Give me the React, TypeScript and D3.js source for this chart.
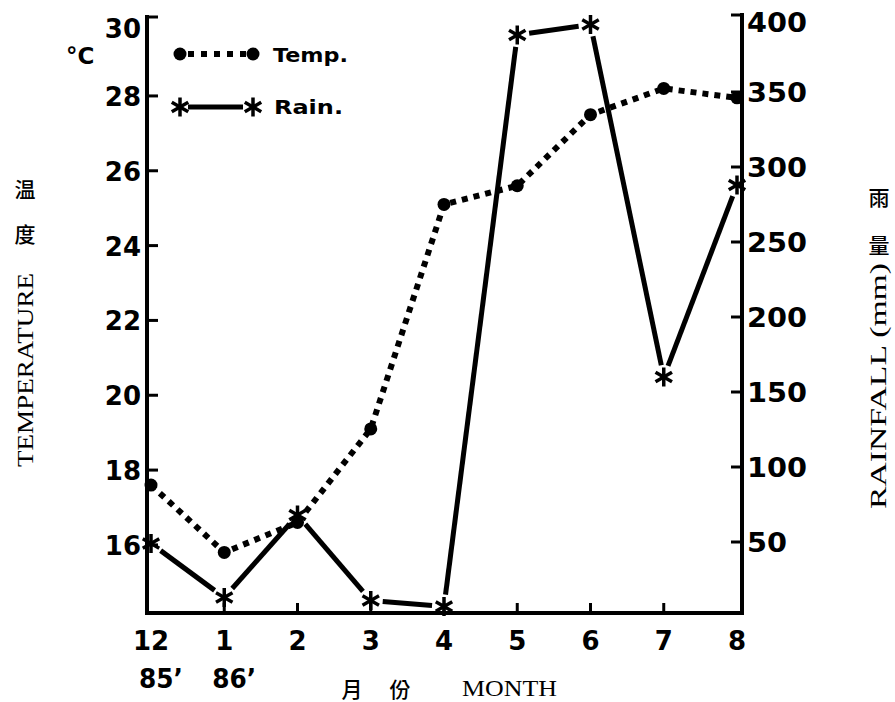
import React from "react";
import * as d3 from "d3";

const months = ["12", "1", "2", "3", "4", "5", "6", "7", "8"];
const temperature = [17.6, 15.8, 16.6, 19.1, 25.1, 25.6, 27.5, 28.2, 27.95];
const rainfall = [49, 13, 68, 11, 7, 388, 395, 160, 288];
const tempTicks = [16, 18, 20, 22, 24, 26, 28, 30];
const rainTicks = [50, 100, 150, 200, 250, 300, 350, 400];
const yearLabels = [
  { month: "12", label: "85’" },
  { month: "1", label: "86’" },
];

const W = 895;
const H = 702;
const LEFT = 147;
const RIGHT = 742;
const TOP = 17;
const BOTTOM = 613;

const NUM_FONT = "'DejaVu Sans', 'Liberation Sans', sans-serif";
const SERIF = "'Liberation Serif', 'DejaVu Serif', serif";
const CJK = "'Noto Sans CJK TC', 'Noto Sans CJK SC', sans-serif";

function Asterisk({ cx, cy, r = 9.5, w = 3.5 }: { cx: number; cy: number; r?: number; w?: number }) {
  const angles = [90, 30, 150];
  return (
    <g stroke="#000" strokeWidth={w}>
      {angles.map((a) => {
        const rad = (a * Math.PI) / 180;
        const dx = Math.cos(rad) * r;
        const dy = Math.sin(rad) * r;
        return <line key={a} x1={cx - dx} y1={cy - dy} x2={cx + dx} y2={cy + dy} />;
      })}
    </g>
  );
}

export default function App() {
  const x = d3.scalePoint<string>().domain(months).range([151, 737]);
  const yT = d3.scaleLinear().domain([14.18, 30.11]).range([BOTTOM, TOP]);
  const yR = d3.scaleLinear().domain([0, 400]).range([617, 17]);

  const tempPts: [number, number][] = months.map((m, i) => [x(m) as number, yT(temperature[i])]);
  const rainPts: [number, number][] = months.map((m, i) => [x(m) as number, yR(rainfall[i])]);

  const tempLine = d3.line()(tempPts) || "";

  const trim = 12;
  const rainSegs = rainPts.slice(1).map((p, i) => {
    const a = rainPts[i];
    const dx = p[0] - a[0];
    const dy = p[1] - a[1];
    const len = Math.hypot(dx, dy);
    const ux = dx / len;
    const uy = dy / len;
    return {
      x1: a[0] + ux * trim,
      y1: a[1] + uy * trim,
      x2: p[0] - ux * trim,
      y2: p[1] - uy * trim,
    };
  });

  return (
    <svg
      width={W}
      height={H}
      viewBox={`0 0 ${W} ${H}`}
      style={{ position: "absolute", left: 0, top: 0, background: "#fff" }}
    >
      <rect x={0} y={0} width={W} height={H} fill="#fff" />

      {/* axes frame */}
      <g stroke="#000" strokeWidth={4} fill="none" strokeLinecap="square">
        <line x1={LEFT} y1={TOP} x2={LEFT} y2={BOTTOM} />
        <line x1={RIGHT} y1={TOP - 2} x2={RIGHT} y2={BOTTOM} />
        <line x1={LEFT} y1={BOTTOM} x2={RIGHT} y2={BOTTOM} />
      </g>

      {/* ticks (inward) */}
      <g stroke="#000" strokeWidth={3}>
        {tempTicks.map((t) => (
          <line key={t} x1={LEFT} x2={LEFT + 11} y1={t === 30 ? TOP : yT(t)} y2={t === 30 ? TOP : yT(t)} />
        ))}
        {rainTicks.map((r) => (
          <line key={r} x1={RIGHT} x2={RIGHT - 11} y1={r === 400 ? TOP - 2 : yR(r)} y2={r === 400 ? TOP - 2 : yR(r)} />
        ))}
        {months.slice(1, -1).map((m) => (
          <line key={m} x1={x(m)} x2={x(m)} y1={BOTTOM} y2={BOTTOM - 10} />
        ))}
      </g>

      {/* left tick labels */}
      <g fontFamily={NUM_FONT} fontWeight="bold" fontSize={26} fill="#000" textAnchor="end">
        {tempTicks.map((t) => (
          <text key={t} x={141} y={Math.max(yT(t), 28) + 10}>
            {t}
          </text>
        ))}
      </g>

      {/* right tick labels */}
      <g fontFamily={NUM_FONT} fontWeight="bold" fontSize={26} fill="#000" textAnchor="start">
        {rainTicks.map((r) => (
          <text key={r} x={747} y={Math.max(yR(r), 22) + 10} textLength={r >= 100 ? 60 : 40} lengthAdjust="spacingAndGlyphs">
            {r}
          </text>
        ))}
      </g>

      {/* bottom labels */}
      <g fontFamily={NUM_FONT} fontWeight="bold" fontSize={26} fill="#000" textAnchor="middle">
        {months.map((m) => (
          <text key={m} x={x(m)} y={650}>
            {m}
          </text>
        ))}
      </g>
      <g fontFamily={NUM_FONT} fontWeight="bold" fontSize={26} fill="#000" textAnchor="start">
        {yearLabels.map((d) => (
          <text key={d.label} x={(x(d.month) as number) - 12} y={688} textLength={44} lengthAdjust="spacingAndGlyphs">
            {d.label}
          </text>
        ))}
      </g>

      {/* degree C */}
      <text x={66} y={64} fontFamily={NUM_FONT} fontWeight="bold" fontSize={23} fill="#000">
        °C
      </text>

      {/* axis titles */}
      <g fontFamily={CJK} fontSize={21} fontWeight={500} fill="#000" textAnchor="middle">
        <text x={25} y={197}>温</text>
        <text x={25} y={242}>度</text>
        <text x={879} y={205}>雨</text>
        <text x={879} y={253}>量</text>
        <text x={352} y={697}>月</text>
        <text x={400} y={697}>份</text>
      </g>
      <text
        transform="translate(33,370) rotate(-90)"
        textAnchor="middle"
        fontFamily={SERIF}
        fontSize={23}
        fill="#000"
        textLength={194}
        lengthAdjust="spacingAndGlyphs"
      >
        TEMPERATURE
      </text>
      <text
        transform="translate(886,386) rotate(-90)"
        textAnchor="middle"
        fontFamily={SERIF}
        fontSize={23}
        fill="#000"
        textLength={246}
        lengthAdjust="spacingAndGlyphs"
      >
        RAINFALL  (mm)
      </text>
      <text x={462} y={696} fontFamily={SERIF} fontSize={24} fill="#000" textLength={95} lengthAdjust="spacingAndGlyphs">
        MONTH
      </text>

      {/* temperature line */}
      <path d={tempLine} fill="none" stroke="#000" strokeWidth={6} strokeDasharray="6 6" />
      {tempPts.map((p, i) => (
        <circle key={i} cx={p[0]} cy={p[1]} r={6.5} fill="#000" />
      ))}

      {/* rainfall line */}
      <g stroke="#000" strokeWidth={5}>
        {rainSegs.map((s, i) => (
          <line key={i} {...s} />
        ))}
      </g>
      {rainPts.map((p, i) => (
        <Asterisk key={i} cx={p[0]} cy={p[1]} />
      ))}

      {/* legend */}
      <line x1={188} y1={54} x2={247} y2={54} stroke="#000" strokeWidth={6} strokeDasharray="6 7" />
      <circle cx={180} cy={54} r={6.5} fill="#000" />
      <circle cx={253} cy={54} r={6.5} fill="#000" />
      <text x={273} y={62} fontFamily={NUM_FONT} fontWeight="bold" fontSize={19} fill="#000" textLength={75} lengthAdjust="spacingAndGlyphs">
        Temp.
      </text>
      <line x1={188} y1={107} x2={243} y2={107} stroke="#000" strokeWidth={5} />
      <Asterisk cx={180} cy={107} />
      <Asterisk cx={253} cy={107} />
      <text x={274} y={114} fontFamily={NUM_FONT} fontWeight="bold" fontSize={19} fill="#000" textLength={69} lengthAdjust="spacingAndGlyphs">
        Rain.
      </text>
    </svg>
  );
}
